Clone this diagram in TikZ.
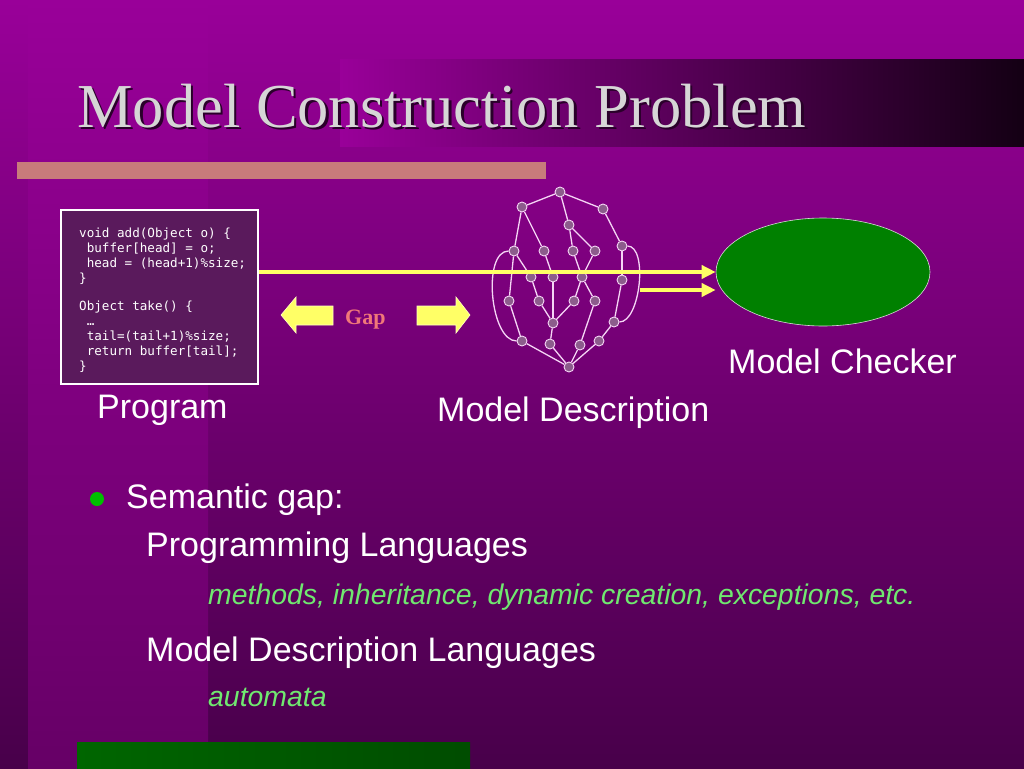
\documentclass[tikz,border=0pt]{standalone}
\usepackage{fontspec}
\setmainfont{Liberation Serif}
\setsansfont{Liberation Sans}
\setmonofont{DejaVu Sans Mono}
\usetikzlibrary{arrows.meta,positioning,shapes.geometric}
\definecolor{bgtop}{HTML}{990099}
\definecolor{bgbot}{HTML}{48004A}
\definecolor{stripbot}{HTML}{660066}
\definecolor{banddark}{HTML}{140014}
\definecolor{bandmid}{HTML}{4E004E}
\definecolor{titlegray}{HTML}{D6D6D6}
\definecolor{shadowpurple}{HTML}{2A002A}
\definecolor{rosebar}{HTML}{C87B7B}
\definecolor{codefill}{HTML}{5A1A5C}
\definecolor{stfill}{HTML}{8C5C8C}
\definecolor{stedge}{HTML}{F5D5F5}
\definecolor{feedyel}{HTML}{FFFF66}
\definecolor{gapred}{HTML}{F07878}
\definecolor{checkgreen}{HTML}{008000}
\definecolor{subgreen}{HTML}{70E870}
\definecolor{bulletgreen}{HTML}{00C000}

\begin{document}
\begin{tikzpicture}[x=1pt, y=-1pt,
  st/.style={circle, draw=stedge, fill=stfill, line width=0.9pt,
             inner sep=0pt, minimum size=10pt},
  tr/.style={draw=stedge, line width=1.3pt},
  feed/.style={draw=feedyel, line width=4pt,
               -{Triangle[length=14pt, width=13pt]}},
  gaparrow/.style={fill=feedyel, draw=feedyel!40!white, line width=0.6pt},
  lbl/.style={font=\sffamily\fontsize{34}{34}\selectfont, text=white,
              anchor=base west, inner sep=0pt},
  sublbl/.style={font=\sffamily\itshape\fontsize{28.4}{28.4}\selectfont,
                 text=subgreen, anchor=base west, inner sep=0pt},
  codetxt/.style={font=\ttfamily\fontsize{12.6}{15}\selectfont,
                  text=white, align=left, inner sep=0pt},
]

%% ---- background ----
\useasboundingbox (0,0) rectangle (1024,768);
\shade[top color=bgtop, bottom color=bgbot] (0,0) rectangle (1024,768);
\shade[top color=bgtop, bottom color=stripbot] (28,0) rectangle (208,768);

%% ---- title band ----
\shade[left color=bgtop, middle color=bandmid, right color=banddark]
  (340,59) rectangle (1024,146);
\node[font=\fontsize{62.5}{62.5}\selectfont, text=shadowpurple,
      anchor=base west, inner sep=0pt] (titleshadow) at (79.5,129.5)
  {Model Construction Problem};
\node[font=\fontsize{62.5}{62.5}\selectfont, text=titlegray,
      anchor=base west, inner sep=0pt] (title) at (77,127)
  {Model Construction Problem};
\fill[rosebar] (17,162) rectangle (546,179);

%% ---- program box ----
\node[draw=white, line width=2.5pt, fill=codefill,
      minimum width=197pt, minimum height=174pt] (prog) at (159.5,297) {};
\node[codetxt, anchor=north west] (src) at (79,228)
  {void add(Object o) \{\\
   ~buffer[head] = o;\\
   ~head = (head+1)\%size;\\
   \}\\[13pt]
   Object take() \{\\
   ~…\\
   ~tail=(tail+1)\%size;\\
   ~return buffer[tail];\\
   \}};
\node[lbl] (proglbl) at (97,418) {Program};

%% ---- gap arrows ----
\filldraw[gaparrow] (281,315) -- (296,297) -- (296,306) -- (333,306)
  -- (333,325) -- (296,325) -- (296,333) -- cycle;
\filldraw[gaparrow] (470,315) -- (456,297) -- (456,306) -- (417,306)
  -- (417,325) -- (456,325) -- (456,333) -- cycle;
\node[font=\bfseries\fontsize{22}{22}\selectfont, text=gapred,
      anchor=base west, inner sep=0pt] (gap) at (345,324) {Gap};

%% ---- model description (state graph) ----
\node[st] (s1)  at (560,192) {};
\node[st] (s2)  at (522,207) {};
\node[st] (s3)  at (603,209) {};
\node[st] (s4)  at (569,225) {};
\node[st] (s5)  at (514,251) {};
\node[st] (s6)  at (544,251) {};
\node[st] (s7)  at (573,251) {};
\node[st] (s8)  at (595,251) {};
\node[st] (s9)  at (622,246) {};
\node[st] (s10) at (531,277) {};
\node[st] (s11) at (553,277) {};
\node[st] (s12) at (582,277) {};
\node[st] (s13) at (622,280) {};
\node[st] (s14) at (509,301) {};
\node[st] (s15) at (539,301) {};
\node[st] (s16) at (574,301) {};
\node[st] (s17) at (595,301) {};
\node[st] (s18) at (553,323) {};
\node[st] (s19) at (614,322) {};
\node[st] (s20) at (522,341) {};
\node[st] (s21) at (550,344) {};
\node[st] (s22) at (580,345) {};
\node[st] (s23) at (599,341) {};
\node[st] (s24) at (569,367) {};

\draw[tr] (s1) -- (s2);  \draw[tr] (s1) -- (s3);  \draw[tr] (s1) -- (s4);
\draw[tr] (s2) -- (s5);  \draw[tr] (s2) -- (s6);  \draw[tr] (s3) -- (s9);
\draw[tr] (s4) -- (s7);  \draw[tr] (s4) -- (s8);
\draw[tr] (s5) -- (s10); \draw[tr] (s5) -- (s14); \draw[tr] (s6) -- (s11);
\draw[tr] (s7) -- (s12); \draw[tr] (s8) -- (s12); \draw[tr] (s9) -- (s13);
\draw[tr] (s10) -- (s15); \draw[tr] (s11) -- (s18);
\draw[tr] (s12) -- (s16); \draw[tr] (s12) -- (s17);
\draw[tr] (s15) -- (s18); \draw[tr] (s16) -- (s18);
\draw[tr] (s13) -- (s19); \draw[tr] (s14) -- (s20);
\draw[tr] (s17) -- (s22); \draw[tr] (s18) -- (s21); \draw[tr] (s19) -- (s23);
\draw[tr] (s20) -- (s24); \draw[tr] (s21) -- (s24);
\draw[tr] (s22) -- (s24); \draw[tr] (s23) -- (s24);
% self-contained loops on both flanks
\draw[tr] (s5) to[out=180, in=180, looseness=0.75] (s20);
\draw[tr] (s9) to[out=0, in=0, looseness=0.7] (s19);
\node[lbl] (mdlbl) at (437,421) {Model Description};

%% ---- model checker ----
\node[ellipse, fill=checkgreen, draw=white!85!black, line width=0.6pt,
      minimum width=214pt, minimum height=108pt] (mc) at (823,272) {};
\node[lbl] (mclbl) at (728,373) {Model Checker};

%% ---- feeds into the checker ----
\coordinate (feed2) at (640,290);
\draw[feed] (prog.east |- mc.west) -- (mc.west);
\draw[feed] (feed2) -- (feed2 -| mc.west);

%% ---- semantic gap bullets ----
\fill[bulletgreen] (97,499) circle (7);
\node[lbl] (semgap) at (126,508) {Semantic gap:};
\node[lbl] (proglang) at (146,556) {Programming Languages};
\node[sublbl] (features) at (208,604)
  {methods, inheritance, dynamic creation, exceptions, etc.};
\node[lbl] (mdlang) at (146,661) {Model Description Languages};
\node[sublbl] (automata) at (208,706) {automata};

%% ---- bottom bar ----
\shade[left color=green!40!black, middle color=green!55!black,
       right color=green!30!black] (77,742) rectangle (470,768);

\end{tikzpicture}
\end{document}
